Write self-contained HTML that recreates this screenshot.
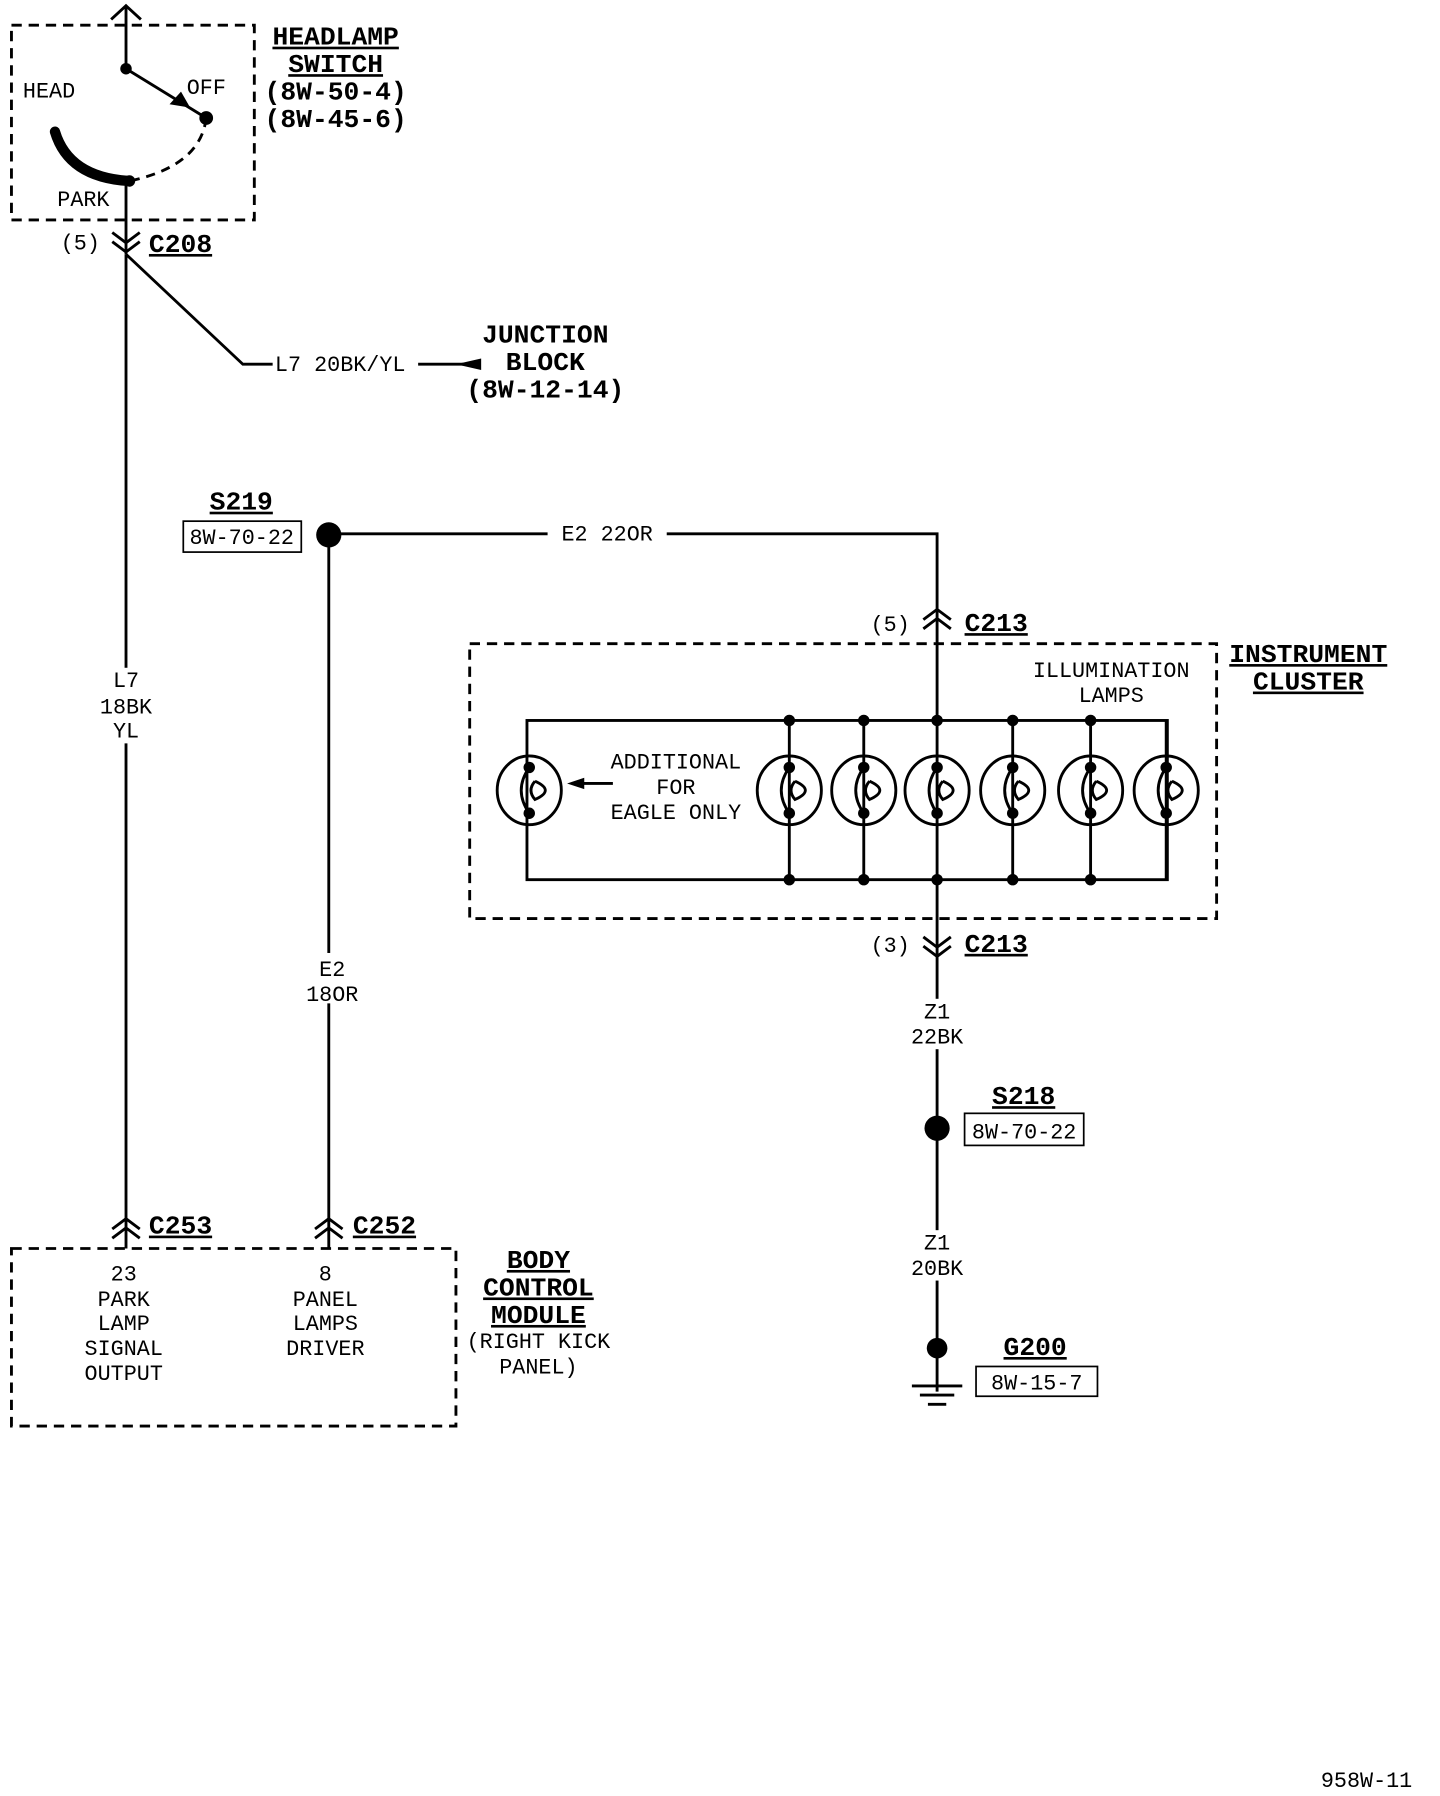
<!DOCTYPE html>
<html><head><meta charset="utf-8"><style>
html,body{margin:0;padding:0;background:#fff}
svg{display:block}
text{font-family:"Liberation Mono",monospace;font-size:19px;fill:#000}
.b{font-weight:bold;font-size:23px;text-decoration:underline}
.p{font-weight:bold;font-size:23px}
</style></head><body>
<svg width="1440" height="1796" viewBox="0 0 1257 1568" preserveAspectRatio="none" xmlns="http://www.w3.org/2000/svg">
<g stroke="#000" stroke-width="2.5" fill="none">
<rect x="10" y="22" width="212" height="170" stroke-dasharray="9,6"/>
<path d="M110 5V60M97 17L110 5L123 17"/>
<path d="M110 60L180 103"/>
<path d="M180 103Q175 145 113 158" stroke-dasharray="8,6"/>
<path d="M48 115Q60 155 113 158" stroke-width="9" stroke-linecap="round"/>
<path d="M110 158V222"/>
<path d="M98 203L110 212L122 203M98 211L110 220L122 211"/>
<path d="M110 222L212 318H238M365 318H405"/>
<path d="M110 222V1090"/>
<path d="M98 1073L110 1064L122 1073M98 1081L110 1072L122 1081"/>
<path d="M287 466V1090M287 466H818V628"/>
<path d="M275 1073L287 1064L299 1073M275 1081L287 1072L299 1081"/>
<path d="M806 541L818 532L830 541M806 549L818 540L830 549"/>
<rect x="410" y="562" width="652" height="240" stroke-dasharray="9,6"/>
<rect x="460" y="629" width="559" height="139"/>
<path d="M689 629V768M754 629V768M818 629V768M884 629V768M952 629V768M1018 629V768"/>
<path d="M818 768V980"/>
<path d="M806 818L818 827L830 818M806 826L818 835L830 826"/>
<path d="M818 985V1215"/>
<path d="M796 1210H840M803 1218H833M810 1226H826"/>
<path d="M535 684H505"/>
<rect x="160" y="455" width="103" height="27" stroke-width="1.5"/>
<rect x="842" y="972" width="104" height="28" stroke-width="1.5"/>
<rect x="852" y="1193" width="106" height="26" stroke-width="1.5"/>
<rect x="10" y="1090" width="388" height="155" stroke-dasharray="9,6"/>
</g>
<g fill="#000">
<circle cx="110" cy="60" r="5"/><circle cx="180" cy="103" r="6"/><circle cx="113" cy="158" r="5"/>
<path d="M148 91L166 94L158 80Z"/>
<path d="M398 318L420 313V323Z"/>
<path d="M495 684L510 679V689Z"/>
<circle cx="287" cy="467" r="11"/><circle cx="818" cy="985" r="11"/><circle cx="818" cy="1177" r="9"/>
</g>
<g stroke="#000" stroke-width="2.5" fill="none">
<ellipse cx="462" cy="690" rx="28" ry="30"/>
<ellipse cx="689" cy="690" rx="28" ry="30"/>
<ellipse cx="754" cy="690" rx="28" ry="30"/>
<ellipse cx="818" cy="690" rx="28" ry="30"/>
<ellipse cx="884" cy="690" rx="28" ry="30"/>
<ellipse cx="952" cy="690" rx="28" ry="30"/>
<ellipse cx="1018" cy="690" rx="28" ry="30"/>
<path d="M462 670Q448 690 462 710M467 682Q485 690 467 698Q460 690 467 682"/>
<path d="M689 670Q675 690 689 710M694 682Q712 690 694 698Q687 690 694 682"/>
<path d="M754 670Q740 690 754 710M759 682Q777 690 759 698Q752 690 759 682"/>
<path d="M818 670Q804 690 818 710M823 682Q841 690 823 698Q816 690 823 682"/>
<path d="M884 670Q870 690 884 710M889 682Q907 690 889 698Q882 690 889 682"/>
<path d="M952 670Q938 690 952 710M957 682Q975 690 957 698Q950 690 957 682"/>
<path d="M1018 670Q1004 690 1018 710M1023 682Q1041 690 1023 698Q1016 690 1023 682"/>
</g>
<g fill="#000">
<circle cx="462" cy="670" r="5"/><circle cx="462" cy="710" r="5"/>
<circle cx="689" cy="670" r="5"/><circle cx="689" cy="710" r="5"/>
<circle cx="754" cy="670" r="5"/><circle cx="754" cy="710" r="5"/>
<circle cx="818" cy="670" r="5"/><circle cx="818" cy="710" r="5"/>
<circle cx="884" cy="670" r="5"/><circle cx="884" cy="710" r="5"/>
<circle cx="952" cy="670" r="5"/><circle cx="952" cy="710" r="5"/>
<circle cx="1018" cy="670" r="5"/><circle cx="1018" cy="710" r="5"/>
<circle cx="689" cy="629" r="5"/><circle cx="754" cy="629" r="5"/><circle cx="818" cy="629" r="5"/><circle cx="884" cy="629" r="5"/><circle cx="952" cy="629" r="5"/>
<circle cx="689" cy="768" r="5"/><circle cx="754" cy="768" r="5"/><circle cx="818" cy="768" r="5"/><circle cx="884" cy="768" r="5"/><circle cx="952" cy="768" r="5"/>
</g>
<g fill="#fff">
<rect x="85" y="583" width="50" height="66"/>
<rect x="260" y="832" width="56" height="44"/>
<rect x="478" y="452" width="104" height="24"/>
<rect x="788" y="872" width="60" height="44"/>
<rect x="788" y="1074" width="60" height="44"/>
</g>
<g text-anchor="middle">
<text class="b" x="293" y="39">HEADLAMP</text>
<text class="b" x="293" y="63">SWITCH</text>
<text class="p" x="293" y="87">(8W-50-4)</text>
<text class="p" x="293" y="111">(8W-45-6)</text>
<text class="p" x="476" y="299">JUNCTION</text>
<text class="p" x="476" y="323">BLOCK</text>
<text class="p" x="476" y="347">(8W-12-14)</text>
<text x="110" y="600">L7</text><text x="110" y="623">18BK</text><text x="110" y="644">YL</text>
<text x="290" y="852">E2</text><text x="290" y="874">18OR</text>
<text x="530" y="472">E2 22OR</text>
<text x="818" y="889">Z1</text><text x="818" y="911">22BK</text>
<text x="818" y="1091">Z1</text><text x="818" y="1113">20BK</text>
<text class="b" x="1142" y="578">INSTRUMENT</text>
<text class="b" x="1142" y="602">CLUSTER</text>
<text x="970" y="591">ILLUMINATION</text><text x="970" y="613">LAMPS</text>
<text x="590" y="671">ADDITIONAL</text><text x="590" y="693">FOR</text><text x="590" y="715">EAGLE ONLY</text>
<text x="108" y="1118">23</text><text x="108" y="1140">PARK</text><text x="108" y="1161">LAMP</text><text x="108" y="1183">SIGNAL</text><text x="108" y="1205">OUTPUT</text>
<text x="284" y="1118">8</text><text x="284" y="1140">PANEL</text><text x="284" y="1161">LAMPS</text><text x="284" y="1183">DRIVER</text>
<text class="b" x="470" y="1107">BODY</text><text class="b" x="470" y="1131">CONTROL</text><text class="b" x="470" y="1155">MODULE</text>
<text x="470" y="1177">(RIGHT KICK</text><text x="470" y="1199">PANEL)</text>
<text x="211" y="475">8W-70-22</text>
<text x="894" y="994">8W-70-22</text>
<text x="905" y="1213">8W-15-7</text>
</g>
<text x="20" y="85">HEAD</text>
<text x="163" y="82">OFF</text>
<text x="50" y="180">PARK</text>
<text x="53" y="218">(5)</text>
<text class="b" x="130" y="220">C208</text>
<text x="240" y="324">L7 20BK/YL</text>
<text class="b" x="183" y="445">S219</text>
<text x="760" y="551">(5)</text>
<text class="b" x="842" y="551">C213</text>
<text x="760" y="831">(3)</text>
<text class="b" x="842" y="831">C213</text>
<text class="b" x="866" y="964">S218</text>
<text class="b" x="876" y="1183">G200</text>
<text class="b" x="130" y="1077">C253</text>
<text class="b" x="308" y="1077">C252</text>
<text x="1153" y="1560">958W-11</text>
</svg>
</body></html>
